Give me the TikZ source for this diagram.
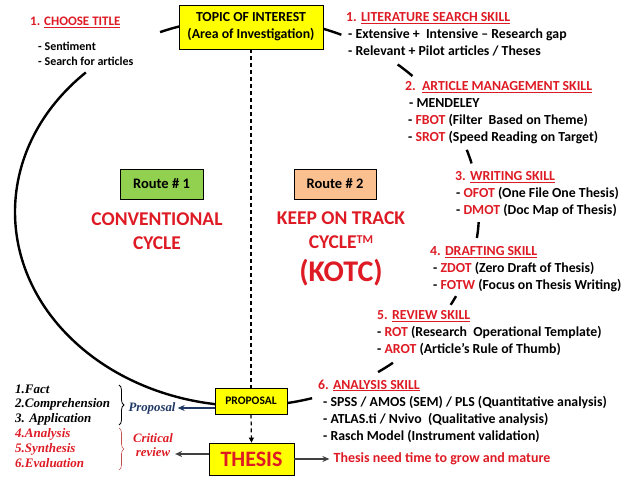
\documentclass[tikz,border=0pt]{standalone}
\usepackage{fontspec}
\setmainfont{Carlito}
\newfontfamily\bloomfont{Liberation Serif}
\usetikzlibrary{arrows.meta,positioning,decorations.pathreplacing}

\definecolor{kotred}{RGB}{222,27,36}
\definecolor{boxyellow}{RGB}{255,255,0}
\definecolor{routegreen}{RGB}{146,208,80}
\definecolor{routepeach}{RGB}{250,192,144}
\definecolor{navyarrow}{RGB}{32,56,100}
\definecolor{darkarrow}{RGB}{64,64,64}
\definecolor{bracered}{RGB}{192,80,77}

\newcommand{\hd}[1]{\textcolor{kotred}{#1}}
\newcommand{\uhd}[1]{\textcolor{kotred}{\underline{#1}}}
\newcommand{\tmark}{\raisebox{4.6pt}{\fontsize{12}{12}\selectfont TM}}

\tikzset{
  yellowbox/.style={draw,fill=boxyellow,line width=0.8pt,align=center,inner sep=0pt},
  routebox/.style={draw,line width=0.8pt,minimum width=83pt,minimum height=30pt,
    font=\fontsize{14.5}{17}\selectfont\bfseries},
  skill/.style={anchor=north west,align=left,inner sep=0pt,
    font=\fontsize{13.8}{17}\selectfont\bfseries},
  bloom/.style={anchor=west,inner sep=0pt,font=\bloomfont\fontsize{13}{15}\selectfont\bfseries\itshape},
  cycletitle/.style={align=center,text=kotred,font=\fontsize{19.5}{24}\selectfont\bfseries},
  sidenote/.style={align=center,inner sep=2pt,font=\bloomfont\fontsize{12.8}{14}\selectfont\bfseries\itshape},
}

\begin{document}
\begin{tikzpicture}[x=1pt,y=1pt]
    \useasboundingbox (0,0) rectangle (638,479);

    % the cycle, broken where the texts stand
    \coordinate (cyc) at (247,267);
    \foreach \a/\b in {107/112, 134/263, 66/71, 44.5/49.5, 14.5/18.7, -7.7/-3,
                       -28.6/-25.7, -55.6/-51, -81/-73.7} {
        \draw[line width=2.4pt] (cyc) ++(\a:232pt and 194pt)
            arc[start angle=\a,end angle=\b,x radius=232pt,y radius=194pt];
    }

    % boxes
    \node[yellowbox,minimum width=144pt,minimum height=44pt,
          font=\fontsize{13.8}{17}\selectfont\bfseries] (topic) at (251,452)
        {TOPIC OF INTEREST\\(Area of Investigation)};
    \node[yellowbox,minimum width=72pt,minimum height=26pt,
          font=\fontsize{11.5}{14}\selectfont\bfseries] (proposal) at (251,78) {PROPOSAL};
    \node[yellowbox,minimum width=85pt,minimum height=32pt,text=kotred,
          font=\fontsize{22}{26}\selectfont\bfseries] (thesis) at (251.5,20) {THESIS};

    \draw[line width=1.2pt,dash pattern=on 4pt off 3pt] (topic.south -| proposal) -- (proposal.north);
    \draw[line width=1.2pt,dash pattern=on 4pt off 3pt,-{Triangle[length=5pt,width=5pt]}]
        (proposal.south) -- (thesis.north);

    \node[routebox,fill=routegreen] (route1) at (161.5,295) {Route \# 1};
    \node[routebox,fill=routepeach,minimum width=82pt] (route2) at (335,295) {Route \# 2};

    \node[cycletitle] (conv) at (157,248) {CONVENTIONAL\\CYCLE};
    \node[cycletitle] (kotc) at (341,249) {KEEP ON TRACK\\CYCLE\tmark};
    \node[cycletitle,font=\fontsize{30}{34}\selectfont\bfseries] (kotcabbr) at (341,206) {(KOTC)};

    % skills round the cycle
    \node[anchor=west,inner sep=0pt,font=\fontsize{13}{15}\selectfont\bfseries] (choose) at (30,457)
        {\hd{1. \uhd{CHOOSE TITLE}}};
    \node[skill,font=\fontsize{12}{15}\selectfont\bfseries] (chooselist) at (38,437.5)
        {- Sentiment\\- Search for articles};

    \node[skill] (litskill) at (346,466.5)
        {\hd{1. \uhd{LITERATURE SEARCH SKILL}}\\
         \hspace*{2pt}- Extensive +\ \ Intensive -- Research gap\\
         \hspace*{2pt}- Relevant + Pilot articles / Theses};
    \node[skill] (artskill) at (405,397.5)
        {\hd{2.\ \ \uhd{ARTICLE MANAGEMENT SKILL}}\\
         \hspace*{4pt}- MENDELEY\\
         \hspace*{3pt}- \hd{FBOT} (Filter\ \ Based on Theme)\\
         \hspace*{3pt}- \hd{SROT} (Speed Reading on Target)};
    \node[skill] (writskill) at (455,307.5)
        {\hd{3. \uhd{WRITING SKILL}}\\
         \hspace*{1pt}- \hd{OFOT} (One File One Thesis)\\
         \hspace*{1pt}- \hd{DMOT} (Doc Map of Thesis)};
    \node[skill] (draftskill) at (430,232.5)
        {\hd{4. \uhd{DRAFTING SKILL}}\\
         \hspace*{3pt}- \hd{ZDOT} (Zero Draft of Thesis)\\
         \hspace*{3pt}- \hd{FOTW} (Focus on Thesis Writing)};
    \node[skill] (revskill) at (377,168.5)
        {\hd{5. \uhd{REVIEW SKILL}}\\
         - \hd{ROT} (Research\ \ Operational Template)\\
         - \hd{AROT} (Article's Rule of Thumb)};
    \node[skill] (analskill) at (318,99.5)
        {\hd{6. \uhd{ANALYSIS SKILL}}\\
         \hspace*{5pt}- SPSS / AMOS (SEM) / PLS (Quantitative analysis)\\
         \hspace*{5pt}- ATLAS.ti / Nvivo\ \ (Qualitative analysis)\\
         \hspace*{5pt}- Rasch Model (Instrument validation)};

    % Bloom levels
    \foreach \y/\t/\c [count=\n] in {90/1.Fact/black, 75/2.Comprehension/black,
                                    60/3. Application/black, 45/4.Analysis/kotred,
                                    30/5.Synthesis/kotred, 16/6.Evaluation/kotred} {
        \node[bloom,text=\c] (bloom\n) at (15,\y) {\t};
    }
    \draw[decorate,decoration={brace,amplitude=5pt},line width=0.8pt] (119,94) -- (119,54);
    \draw[decorate,decoration={brace,amplitude=5pt},line width=0.6pt,bracered] (119,51) -- (119,9);

    \node[sidenote,text=navyarrow] (propnote) at (152,71) {Proposal};
    \node[sidenote,text=kotred] (crit) at (153,33.5) {Critical\\review};
    \node[right=35pt of thesis,inner sep=4pt,text=kotred,
          font=\fontsize{14}{17}\selectfont\bfseries] (note) {Thesis need time to grow and mature};

    \draw[navyarrow,line width=1.3pt,-{Stealth[length=7pt,width=6pt]}]
        (proposal.west |- propnote.east) -- (propnote.east);
    \draw[darkarrow,line width=1.3pt,-{Stealth[length=7pt,width=6pt]}]
        ([yshift=5pt]thesis.west) -- ([yshift=5pt]thesis.west -| crit.east);
    \draw[darkarrow,line width=1.3pt,-{Stealth[length=7pt,width=6pt]}] (thesis) -- (note);
\end{tikzpicture}
\end{document}
